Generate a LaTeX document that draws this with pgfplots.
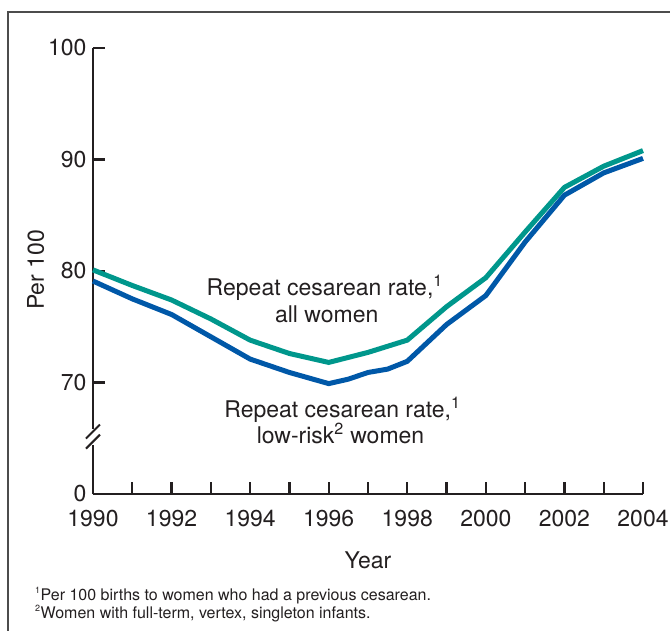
\documentclass[border=0pt]{standalone}
\usepackage{fontspec}
\setmainfont{TeX Gyre Heros}
\usepackage{pgfplots}
\pgfplotsset{compat=1.18}
\definecolor{tealc}{HTML}{00978C}
\definecolor{bluec}{HTML}{0058A8}
\definecolor{txt}{HTML}{231F20}
\begin{document}
\begin{tikzpicture}
\useasboundingbox (-93pt,-136pt) rectangle (577pt,494pt);
\draw[line width=1.3pt, color=black!70] (-85pt,-140pt) -- (-85pt,482pt) -- (580pt,482pt);
\begin{axis}[
  at={(0,0)}, anchor=south west,
  scale only axis, width=550pt, height=446pt,
  xmin=1990, xmax=2004, ymin=60, ymax=100,
  axis x line=bottom, axis y line=left,
  axis line style={-, line width=2.2pt, color=txt},
  tick style={line width=2.2pt, color=txt},
  tick align=inside,
  major tick length=12pt, minor tick length=12pt,
  xtick={1990,1992,...,2004}, minor xtick={1991,1993,...,2003},
  ytick={60,70,80,90,100}, yticklabels={0,70,80,90,100},
  /pgf/number format/assume math mode=true,
  /pgf/number format/1000 sep={},
  tick label style={font=\fontsize{23}{26}\selectfont, color=txt},
  xticklabel style={yshift=-13pt},
  yticklabel style={xshift=-3pt},
  clip=false,
]
\addplot[color=tealc, line width=5pt] coordinates {
 (1990,80.1) (1991,78.7) (1992,77.4) (1993,75.7) (1994,73.8) (1995,72.6)
 (1996,71.8) (1997,72.7) (1998,73.8) (1999,76.8) (2000,79.4) (2001,83.5)
 (2002,87.5) (2003,89.4) (2004,90.8)
};
\addplot[color=bluec, line width=5pt] coordinates {
 (1990,79.1) (1991,77.5) (1992,76.1) (1993,74.1) (1994,72.1) (1995,70.9)
 (1996,69.9) (1996.5,70.3) (1997,70.9) (1997.5,71.2) (1998,71.9) (1999,75.2)
 (2000,77.8) (2001,82.6) (2002,86.8) (2003,88.8) (2004,90.1)
};
\node[anchor=base, font=\fontsize{23}{26}\selectfont, color=txt] at (axis cs:1995.9,77.76) {Repeat cesarean rate,\textsuperscript{1}};
\node[anchor=base, font=\fontsize{23}{26}\selectfont, color=txt] at (axis cs:1995.95,75.34) {all women};
\node[anchor=base, font=\fontsize{23}{26}\selectfont, color=txt] at (axis cs:1996.35,66.9) {Repeat cesarean rate,\textsuperscript{1}};
\node[anchor=base, font=\fontsize{23}{26}\selectfont, color=txt] at (axis cs:1996.3,64.57) {low-risk\textsuperscript{2} women};
\coordinate (bA) at (axis cs:1990,65.6);
\coordinate (bB) at (axis cs:1990,64.7);
\coordinate (ylab) at (axis cs:1990,80.1);
\coordinate (xlab) at (axis cs:1997,60);
\end{axis}
\fill[white] ([shift={(-3pt,-3pt)}]bB) rectangle ([shift={(3pt,3pt)}]bA);
\draw[line width=2pt, color=txt] ([shift={(-7pt,-7pt)}]bA) -- ([shift={(7pt,7pt)}]bA);
\draw[line width=2pt, color=txt] ([shift={(-7pt,-7pt)}]bB) -- ([shift={(7pt,7pt)}]bB);
\node[rotate=90, anchor=base, font=\fontsize{23}{26}\selectfont, color=txt] at ([xshift=-49pt]ylab) {Per 100};
\node[anchor=base, font=\fontsize{23}{26}\selectfont, color=txt] at ([yshift=-74pt]xlab) {Year};
\node[anchor=base west, font=\fontsize{16}{19}\selectfont, color=txt, inner sep=0pt] at (-58pt,-106pt) {\textsuperscript{\fontsize{9}{9}\selectfont 1}Per 100 births to women who had a previous cesarean.};
\node[anchor=base west, font=\fontsize{16}{19}\selectfont, color=txt, inner sep=0pt] at (-58pt,-124pt) {\textsuperscript{\fontsize{9}{9}\selectfont 2}Women with full-term, vertex, singleton infants.};
\end{tikzpicture}
\end{document}
